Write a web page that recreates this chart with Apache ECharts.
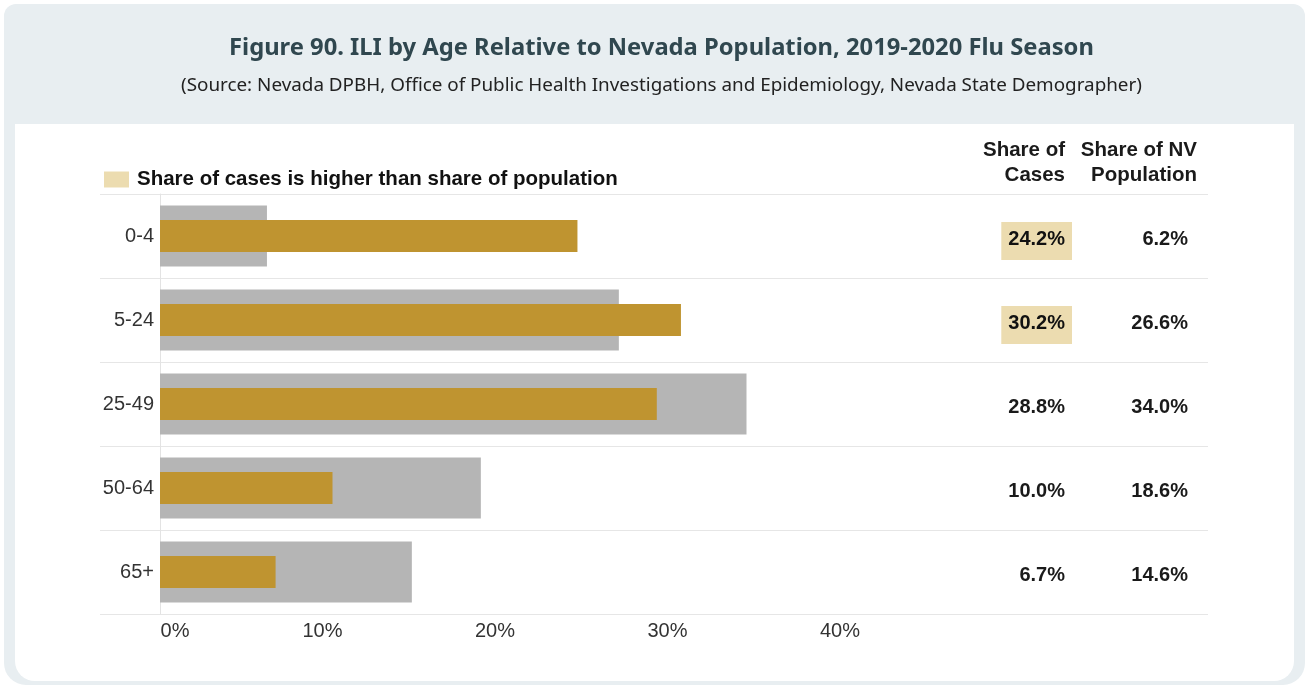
<!DOCTYPE html>
<html>
<head>
<meta charset="utf-8">
<script src="https://cdn.jsdelivr.net/npm/echarts@6/dist/echarts.min.js"></script>
<style>
  html, body { margin: 0; padding: 0; background: #ffffff; }
  #frame { position: absolute; left: 4px; top: 4px; width: 1301px; height: 681px; background: #e8eef1; border-radius: 12px 12px 22px 22px; }
  #panel { position: absolute; left: 15px; top: 124px; width: 1279px; height: 557px; background: #ffffff; border-radius: 0 0 20px 20px; }
  #chart { position: absolute; left: 0; top: 0; width: 1307px; height: 687px; }
</style>
</head>
<body>
<div id="frame"></div>
<div id="panel"></div>
<div id="chart"></div>
<script>
// ---- data ----
const categories = ['0-4', '5-24', '25-49', '50-64', '65+'];
const casesShare = [24.2, 30.2, 28.8, 10.0, 6.7];
const popShare = [6.2, 26.6, 34.0, 18.6, 14.6];
const xTickValues = [0, 10, 20, 30, 40];
const titleText = 'Figure 90. ILI by Age Relative to Nevada Population, 2019-2020 Flu Season';
const subtitleText = '(Source: Nevada DPBH, Office of Public Health Investigations and Epidemiology, Nevada State Demographer)';
const legendText = 'Share of cases is higher than share of population';
const casesHeader = 'Share of\nCases';
const popHeader = 'Share of NV\nPopulation';

const chart = echarts.init(document.getElementById('chart'), null, { renderer: 'canvas' });
const sans = 'Liberation Sans';
const valueLabel = (arr, highlightFn) => ({
  show: true,
  margin: 0,
  padding: [10, 0, 0, 0],
  formatter: (v, i) => {
    const txt = arr[i].toFixed(1) + '%';
    return highlightFn && highlightFn(i) ? '{hl|' + txt + '}' : '{n|' + txt + '}';
  },
  rich: {
    hl: { backgroundColor: '#ecdcb0', padding: [7, 7, 11, 7], fontFamily: sans, fontWeight: 'bold', fontSize: 20, color: '#111111' },
    n: { padding: [7, 7, 11, 7], fontFamily: sans, fontWeight: 'bold', fontSize: 20, color: '#1a1a1a' }
  }
});

const option = {
  animation: false,
  title: [
    { text: titleText, left: 224, top: 31, textStyle: { fontFamily: 'Noto Sans', fontWeight: 'bold', fontSize: 23.75, color: '#30474f' } },
    { text: subtitleText, left: 176, top: 71, textStyle: { fontFamily: 'Noto Sans', fontWeight: 'normal', fontSize: 18.85, color: '#222222' } }
  ],
  legend: {
    data: [legendText],
    left: 104, top: 169, padding: 0,
    icon: 'rect', itemWidth: 25, itemHeight: 16,
    selectedMode: false,
    textStyle: { fontFamily: sans, fontWeight: 'bold', fontSize: 20.5, color: '#111111', padding: [0, 0, 0, 3] }
  },
  grid: { left: 100, right: 99, top: 194, bottom: 73, containLabel: false },
  xAxis: {
    type: 'value', min: -3.4783, max: 60.7536,
    axisLine: { show: false }, axisTick: { show: false },
    splitLine: { show: false },
    axisLabel: {
      customValues: xTickValues,
      formatter: v => v === 0 ? '{z|0%}' : '{s|' + v + '%}',
      margin: 7,
      fontFamily: sans, fontSize: 20, color: '#333333',
      rich: {
        z: { padding: [0, 0, 0, 30], fontFamily: sans, fontSize: 20, color: '#333333' },
        s: { padding: [0, 20, 0, 0], fontFamily: sans, fontSize: 20, color: '#333333' }
      }
    }
  },
  yAxis: [
    {
      type: 'category', data: categories, inverse: true, offset: -60,
      axisLine: { show: true, onZero: false, lineStyle: { color: '#e3e3e3', width: 1 } },
      axisTick: { show: false },
      splitLine: { show: true, lineStyle: { color: '#e6e6e6', width: 1 } },
      axisLabel: { margin: 6, padding: [16, 0, 0, 0], fontFamily: sans, fontSize: 20, color: '#333333' }
    },
    {
      type: 'category', data: categories, inverse: true, position: 'left', offset: -972,
      axisLine: { show: false, onZero: false }, axisTick: { show: false }, splitLine: { show: false },
      axisLabel: valueLabel(casesShare, i => casesShare[i] > popShare[i])
    },
    {
      type: 'category', data: categories, inverse: true, position: 'left', offset: -1095,
      axisLine: { show: false, onZero: false }, axisTick: { show: false }, splitLine: { show: false },
      axisLabel: valueLabel(popShare, null)
    }
  ],
  graphic: [
    { type: 'text', right: 242, top: 138, style: { text: casesHeader, textAlign: 'right', fontFamily: sans, fontWeight: 'bold', fontSize: 20.5, lineHeight: 25, fill: '#1a1a1a' } },
    { type: 'text', right: 110, top: 138, style: { text: popHeader, textAlign: 'right', fontFamily: sans, fontWeight: 'bold', fontSize: 20.5, lineHeight: 25, fill: '#1a1a1a' } }
  ],
  series: [
    {
      name: 'Share of NV Population', type: 'bar', yAxisIndex: 0,
      data: popShare, barWidth: 61,
      itemStyle: { color: '#b5b5b5' }, silent: true
    },
    {
      name: 'Share of Cases', type: 'bar', yAxisIndex: 1,
      data: casesShare, barWidth: 32,
      itemStyle: { color: '#bf9430' }, silent: true
    },
    {
      name: legendText, type: 'bar', yAxisIndex: 2, data: [],
      itemStyle: { color: '#ecdcb0' }
    }
  ]
};
chart.setOption(option);
</script>
</body>
</html>
